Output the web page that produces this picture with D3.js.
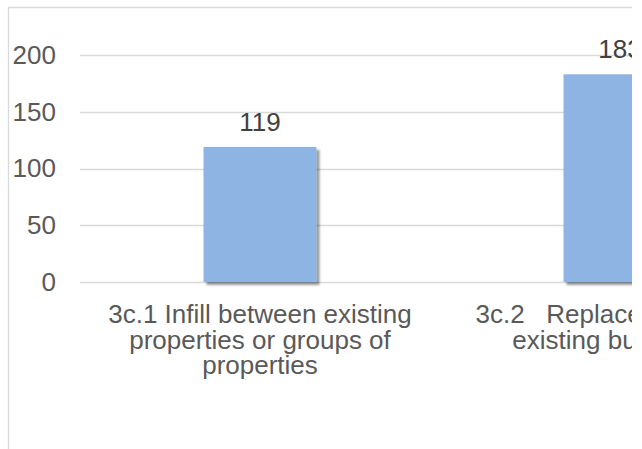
<!DOCTYPE html>
<html>
<head>
<meta charset="utf-8">
<script src="https://cdn.jsdelivr.net/npm/d3@7"></script>
<style>
  html, body { margin: 0; padding: 0; background: #fff; }
  svg { display: block; }
</style>
</head>
<body>
<svg id="chart" width="642" height="449"></svg>
<script>
// ---- data ----
const categories = ["3c.1", "3c.2"];
const categoryLabels = [
  ["3c.1 Infill between existing", "properties or groups of", "properties"],
  ["3c.2\u00a0\u00a0\u00a0Replacement of an", "existing building(s)"]
];
const values = [119, 183];
const yTicks = [0, 50, 100, 150, 200];

// ---- layout ----
const W = 642, H = 449;
const clipW = 632;
const plotLeft = 80, plotRight = 800;
const yTop = 55, yBottom = 282;
const font = "'Liberation Sans', Arial, sans-serif";
const textColor = "#595959";
const fs = 26;

const svg = d3.select("#chart");
const defs = svg.append("defs");
defs.append("clipPath").attr("id", "clip")
  .append("rect").attr("x", 0).attr("y", 0).attr("width", clipW).attr("height", H);
const f = defs.append("filter").attr("id", "shadow")
  .attr("x", "-10%").attr("y", "-10%").attr("width", "130%").attr("height", "130%");
f.append("feDropShadow").attr("dx", 3).attr("dy", 3).attr("stdDeviation", 1.2)
  .attr("flood-color", "#000").attr("flood-opacity", 0.4);

const g = svg.append("g").attr("clip-path", "url(#clip)");

// border
g.append("path")
  .attr("d", `M8.5,${H + 5} V7.5 H${clipW + 10}`)
  .attr("fill", "none").attr("stroke", "#d9d9d9").attr("stroke-width", 1.3);

const x = d3.scaleBand().domain(categories).range([plotLeft, plotRight])
  .paddingInner(1 - 113 / 360).paddingOuter((1 - 113 / 360) / 2);
const y = d3.scaleLinear().domain([0, 200]).range([yBottom, yTop]);

// gridlines
g.append("g").selectAll("line").data(yTicks).join("line")
  .attr("x1", plotLeft).attr("x2", plotRight)
  .attr("y1", d => Math.round(y(d)) + 0.5).attr("y2", d => Math.round(y(d)) + 0.5)
  .attr("stroke", "#d9d9d9").attr("stroke-width", 1.4);

// y axis labels
const yAxis = d3.axisLeft(y).tickValues(yTicks).tickSize(0).tickPadding(0);
const ya = g.append("g").attr("transform", "translate(56,0)").call(yAxis);
ya.select(".domain").remove();
ya.selectAll("text").attr("fill", textColor).style("font-family", font).style("font-size", fs + "px");

// bars
g.append("g").selectAll("rect").data(values).join("rect")
  .attr("x", (d, i) => x(categories[i]))
  .attr("y", d => y(d))
  .attr("width", x.bandwidth())
  .attr("height", d => y(0) - y(d))
  .attr("fill", "#8eb4e3")
  .attr("filter", "url(#shadow)");

// value labels
g.append("g").selectAll("text").data(values).join("text")
  .attr("x", (d, i) => x(categories[i]) + x.bandwidth() / 2)
  .attr("y", d => y(d) - 16)
  .attr("text-anchor", "middle")
  .attr("fill", "#404040")
  .style("font-family", font).style("font-size", fs + "px")
  .text(d => d);

// category labels
const cg = g.append("g").selectAll("text").data(categoryLabels).join("text")
  .attr("text-anchor", "middle")
  .attr("fill", textColor)
  .style("font-family", font).style("font-size", fs + "px");
cg.each(function(lines, i) {
  const cx = x(categories[i]) + x.bandwidth() / 2;
  d3.select(this).selectAll("tspan").data(lines).join("tspan")
    .attr("x", cx)
    .attr("y", (l, j) => 323 + j * 25.5)
    .text(l => l);
});
</script>
</body>
</html>
